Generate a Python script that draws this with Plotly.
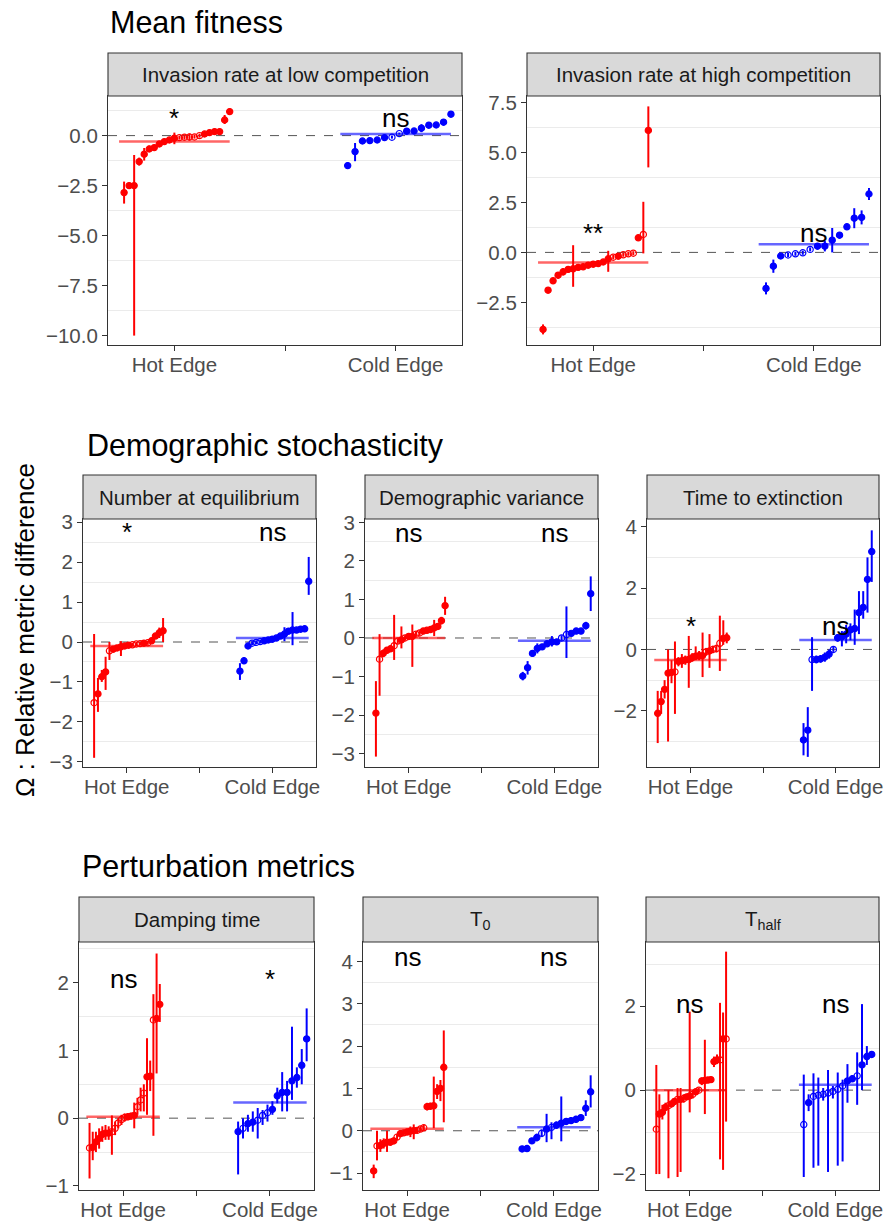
import plotly.graph_objects as go

W, H = 885, 1221
FONT = "Liberation Sans, Arial, Helvetica, sans-serif"
RED = "#FF0000"
BLUE = "#0000FF"

# ---------------- data ----------------
panel_titles = ["Invasion rate at low competition", "Invasion rate at high competition",
                "Number at equilibrium", "Demographic variance", "Time to extinction",
                "Damping time", "T<sub>0</sub>", "T<sub>half</sub>"]
section_titles = ["Mean fitness", "Demographic stochasticity", "Perturbation metrics"]
x_labels = ["Hot Edge", "Cold Edge"]
sig_hot = ["*", "**", "*", "ns", "*", "ns", "ns", "ns"]
sig_cold = ["ns", "ns", "ns", "ns", "ns", "*", "ns", "ns"]
sig_y = [0.9, 0.97, 2.76, 2.73, 0.76, 2.06, 4.11, 2.05]
mean_hot = [-0.3, -0.5, -0.1, 0.0, -0.34, 0.02, 0.05, 0.0]
mean_cold = [0.08, 0.41, 0.1, -0.07, 0.31, 0.23, 0.08, 0.13]

# Panel 1: invasion rate, low competition
p1_hot_val = [-2.85, -2.5, -2.5, -1.3, -0.93, -0.67, -0.6, -0.42, -0.3, -0.22, -0.13, -0.1, -0.08, -0.07, -0.07, 0.0, 0.08, 0.15, 0.2, 0.2, 0.78, 1.2]
p1_hot_lo = [-3.4, -2.65, -10.0, -1.5, -1.25, -0.8, -0.7, -0.5, -0.4, -0.3, -0.43, -0.2, -0.2, -0.25, -0.15, -0.1, 0.0, 0.05, 0.12, 0.12, 0.58, 1.05]
p1_hot_hi = [-2.3, -2.35, -0.97, -1.1, -0.62, -0.5, -0.5, -0.35, -0.2, -0.15, 0.15, 0.0, 0.05, 0.1, 0.05, 0.1, 0.15, 0.25, 0.28, 0.28, 1.03, 1.35]
p1_hot_open = [11, 12, 13, 14, 15]
p1_cold_val = [-1.5, -0.8, -0.27, -0.25, -0.22, -0.1, -0.08, 0.1, 0.22, 0.23, 0.37, 0.52, 0.53, 0.67, 1.07]
p1_cold_lo = [-1.65, -1.28, -0.35, -0.32, -0.3, -0.18, -0.15, 0.05, 0.15, 0.16, 0.17, 0.45, 0.46, 0.6, 0.95]
p1_cold_hi = [-1.35, -0.37, -0.2, -0.18, -0.15, -0.02, 0.0, 0.15, 0.29, 0.3, 0.57, 0.6, 0.6, 0.75, 1.2]
p1_cold_open = [6, 7]

# Panel 2: invasion rate, high competition
p2_hot_val = [-3.85, -1.89, -1.42, -1.14, -0.97, -0.85, -0.82, -0.75, -0.72, -0.64, -0.59, -0.56, -0.48, -0.32, -0.24, -0.19, -0.12, -0.07, -0.04, 0.73, 0.9, 6.1]
p2_hot_lo = [-4.1, -2.0, -1.55, -1.3, -1.15, -1.0, -1.72, -0.88, -0.8, -0.72, -0.67, -0.64, -0.56, -0.97, -0.35, -0.3, -0.22, -0.17, -0.14, 0.6, -0.05, 4.25]
p2_hot_hi = [-3.6, -1.78, -1.3, -0.98, -0.8, -0.7, 0.36, -0.62, -0.64, -0.56, -0.51, -0.48, -0.4, 0.08, -0.13, -0.08, -0.02, 0.03, 0.06, 0.86, 2.53, 7.3]
p2_hot_open = [14, 16, 17, 18, 20]
p2_cold_val = [-1.8, -0.69, -0.18, -0.13, -0.07, -0.02, 0.15, 0.31, 0.31, 0.61, 0.86, 1.28, 1.71, 1.75, 2.92]
p2_cold_lo = [-2.1, -1.02, -0.28, -0.23, -0.17, -0.12, 0.05, 0.2, 0.05, 0.0, 0.78, 1.18, 1.21, 1.4, 2.62]
p2_cold_hi = [-1.5, -0.36, -0.08, -0.03, 0.03, 0.08, 0.25, 0.42, 0.57, 1.22, 0.96, 1.38, 2.21, 2.1, 3.22]
p2_cold_open = [3, 4, 5, 6]

# Panel 3: number at equilibrium
p3_hot_val = [-1.52, -1.3, -0.87, -0.75, -0.22, -0.18, -0.15, -0.12, -0.1, -0.08, -0.07, -0.05, -0.04, -0.03, -0.02, 0.03, 0.15, 0.23, 0.28]
p3_hot_lo = [-2.9, -1.75, -1.0, -1.2, -0.45, -0.25, -0.22, -0.35, -0.15, -0.13, -0.12, -0.1, -0.09, -0.08, -0.07, -0.02, 0.08, 0.1, 0.0]
p3_hot_hi = [0.2, -0.9, -0.7, -0.37, 0.0, -0.11, -0.08, 0.02, -0.05, -0.03, -0.02, 0.0, 0.01, 0.02, 0.03, 0.08, 0.22, 0.36, 0.6]
p3_hot_open = [0, 4, 10, 11, 12, 14]
p3_cold_val = [-0.73, -0.47, -0.1, -0.03, -0.01, 0.01, 0.03, 0.05, 0.07, 0.1, 0.15, 0.2, 0.27, 0.3, 0.3, 0.32, 0.33, 1.52]
p3_cold_lo = [-0.95, -0.55, -0.16, -0.08, -0.06, -0.04, -0.02, 0.0, 0.02, 0.05, 0.1, 0.02, 0.2, -0.08, 0.25, 0.27, 0.28, 1.18]
p3_cold_hi = [-0.53, -0.39, -0.04, 0.02, 0.04, 0.06, 0.08, 0.1, 0.12, 0.15, 0.2, 0.37, 0.34, 0.75, 0.35, 0.37, 0.38, 2.13]
p3_cold_open = [3, 4, 5]

# Panel 4: demographic variance
p4_hot_val = [-1.95, -0.55, -0.4, -0.32, -0.28, -0.2, -0.08, -0.05, 0.0, 0.04, 0.04, 0.1, 0.13, 0.18, 0.2, 0.22, 0.26, 0.3, 0.45, 0.84]
p4_hot_lo = [-3.08, -1.5, -0.5, -0.4, -0.36, -0.57, -0.15, -0.27, -0.07, -0.03, -0.75, 0.03, 0.06, 0.11, 0.13, 0.15, 0.05, 0.23, 0.35, 0.6]
p4_hot_hi = [-1.12, 0.1, -0.3, -0.24, -0.2, 0.6, -0.01, 0.3, 0.07, 0.11, 0.35, 0.17, 0.2, 0.25, 0.27, 0.29, 0.47, 0.37, 0.55, 1.07]
p4_hot_open = [1, 5, 6, 8, 11, 12]
p4_cold_val = [-0.99, -0.77, -0.4, -0.27, -0.23, -0.15, -0.1, -0.1, 0.0, 0.09, 0.12, 0.18, 0.18, 0.32, 1.15]
p4_cold_lo = [-1.1, -0.95, -0.48, -0.4, -0.3, -0.22, -0.22, -0.17, -0.07, -0.52, 0.05, 0.11, 0.11, 0.22, 0.7]
p4_cold_hi = [-0.88, -0.6, -0.32, -0.14, -0.16, -0.08, 0.05, -0.03, 0.07, 0.82, 0.19, 0.25, 0.25, 0.42, 1.6]
p4_cold_open = [8, 9]

# Panel 5: time to extinction
p5_hot_val = [-2.08, -1.7, -1.3, -0.77, -0.75, -0.73, -0.39, -0.37, -0.34, -0.33, -0.27, -0.22, -0.2, -0.2, -0.08, -0.05, 0.0, 0.03, 0.2, 0.36, 0.38]
p5_hot_lo = [-3.05, -2.1, -1.6, -3.0, -1.1, -2.1, -0.55, -0.6, -0.5, -1.25, -0.4, -0.35, -0.35, -0.9, -0.2, -0.6, -0.12, -0.1, -0.7, 0.15, 0.2]
p5_hot_hi = [-1.35, -1.35, -1.0, 0.0, -0.35, 0.26, -0.25, -0.15, -0.2, 0.44, -0.12, 0.1, -0.05, 0.55, 0.05, 0.5, 0.12, 0.15, 1.1, 0.95, 0.55]
p5_hot_open = [5, 14, 16, 17, 18]
p5_cold_val = [-2.95, -2.63, -0.33, -0.33, -0.31, -0.25, -0.15, 0.0, 0.38, 0.41, 0.5, 0.64, 0.68, 1.2, 1.37, 2.28, 3.19]
p5_cold_lo = [-3.45, -3.5, -1.35, -0.45, -0.43, -0.4, -0.3, -0.08, 0.25, 0.1, 0.2, 0.3, 0.15, 0.5, 1.0, 1.2, 2.2]
p5_cold_hi = [-2.4, -1.88, 0.4, -0.2, -0.18, -0.1, 0.0, 0.08, 0.5, 0.6, 0.8, 0.85, 1.3, 1.9, 1.9, 3.0, 3.88]
p5_cold_open = [2, 7]

# Panel 6: damping time
p6_hot_val = [-0.44, -0.43, -0.35, -0.3, -0.24, -0.22, -0.22, -0.2, -0.15, -0.07, -0.02, 0.01, 0.02, 0.03, 0.04, 0.17, 0.27, 0.37, 0.61, 0.62, 1.45, 1.47, 1.68]
p6_hot_lo = [-0.89, -0.62, -0.5, -0.45, -0.35, -0.32, -0.32, -0.54, -0.25, -0.15, -0.1, -0.05, -0.03, -0.02, -0.15, 0.05, 0.1, 0.1, 0.05, 0.4, -0.26, 0.66, 1.42]
p6_hot_hi = [-0.07, -0.2, -0.2, -0.15, -0.12, -0.1, -0.12, 0.04, -0.05, 0.0, 0.05, 0.07, 0.07, 0.08, 0.23, 0.3, 0.45, 0.5, 1.18, 0.85, 1.83, 2.43, 1.98]
p6_hot_open = [0, 7, 8, 9, 10, 11, 13, 15, 16, 17, 20]
p6_cold_val = [-0.2, -0.15, -0.08, -0.06, -0.03, 0.04, 0.08, 0.13, 0.33, 0.38, 0.38, 0.55, 0.6, 0.78, 1.17]
p6_cold_lo = [-0.83, -0.3, -0.2, -0.2, -0.3, -0.1, -0.05, 0.05, 0.22, 0.1, 0.1, 0.27, 0.45, 0.5, 0.84]
p6_cold_hi = [-0.05, 0.0, 0.05, 0.1, 0.15, 0.12, 0.2, 0.25, 0.45, 0.68, 0.55, 1.35, 0.75, 1.02, 1.62]
p6_cold_open = [1, 4, 5, 6]

# Panel 7: T0
p7_hot_val = [-0.95, -0.36, -0.35, -0.3, -0.27, -0.27, -0.24, -0.15, -0.07, -0.05, -0.03, -0.01, 0.0, 0.01, 0.04, 0.07, 0.57, 0.58, 0.59, 0.93, 1.0, 1.5]
p7_hot_lo = [-1.12, -0.7, -0.5, -0.42, -0.5, -0.35, -0.32, -0.22, -0.14, -0.12, -0.1, -0.15, -0.2, -0.06, -0.02, 0.0, 0.48, 0.5, 0.06, 0.75, 0.7, 0.2]
p7_hot_hi = [-0.8, 0.0, -0.2, -0.18, 0.0, -0.19, -0.16, -0.08, 0.0, 0.02, 0.05, 0.1, 0.15, 0.08, 0.1, 0.14, 0.66, 0.66, 1.28, 1.1, 1.2, 2.37]
p7_hot_open = [1, 7, 9, 13, 14, 15]
p7_cold_val = [-0.43, -0.42, -0.24, -0.16, -0.06, 0.04, 0.08, 0.13, 0.18, 0.22, 0.24, 0.27, 0.31, 0.53, 0.92]
p7_cold_lo = [-0.48, -0.47, -0.3, -0.25, -0.15, -0.27, -0.2, 0.05, -0.25, 0.15, 0.17, 0.19, 0.24, 0.35, 0.55]
p7_cold_hi = [-0.38, -0.37, -0.18, -0.07, 0.03, 0.4, 0.2, 0.22, 0.81, 0.3, 0.32, 0.35, 0.38, 0.72, 1.31]
p7_cold_open = [4, 6]

# Panel 8: T_half
p8_hot_val = [-0.93, -0.57, -0.53, -0.41, -0.37, -0.33, -0.27, -0.22, -0.22, -0.2, -0.16, -0.14, -0.1, -0.04, 0.0, 0.22, 0.23, 0.24, 0.25, 0.68, 0.72, 0.72, 1.22, 1.22]
p8_hot_lo = [-2.0, -2.0, -0.7, -0.5, -2.1, -0.4, -0.35, -2.07, -1.95, -0.3, -0.22, -0.53, -0.2, -0.1, -0.05, 0.12, -0.57, 0.17, 0.18, 0.55, 0.62, -1.65, -1.9, -0.75]
p8_hot_hi = [0.6, -0.1, -0.35, -0.3, 0.0, -0.25, -0.2, 0.05, 0.05, -0.1, -0.1, 1.87, 0.0, 0.0, 0.05, 0.3, 1.2, 0.3, 0.32, 0.8, 0.85, 2.08, 1.85, 3.3]
p8_hot_open = [0, 4, 7, 9, 12, 14, 21, 23]
p8_cold_val = [-0.82, -0.3, -0.15, -0.12, -0.1, -0.07, -0.03, 0.02, 0.1, 0.22, 0.27, 0.34, 0.6, 0.8, 0.85]
p8_cold_lo = [-2.07, -0.5, -1.85, -1.8, -0.25, -1.95, -0.2, -1.8, -1.7, -0.3, 0.2, -0.35, 0.0, 0.6, 0.78]
p8_cold_hi = [0.37, -0.1, 0.4, 0.3, 0.05, 0.48, 0.1, 0.42, 0.25, 0.62, 0.35, 0.9, 2.05, 1.05, 0.92]
p8_cold_open = [0, 2, 3, 4, 5, 6, 7, 8, 11]

hot_data = [
    (p1_hot_val, p1_hot_lo, p1_hot_hi, p1_hot_open),
    (p2_hot_val, p2_hot_lo, p2_hot_hi, p2_hot_open),
    (p3_hot_val, p3_hot_lo, p3_hot_hi, p3_hot_open),
    (p4_hot_val, p4_hot_lo, p4_hot_hi, p4_hot_open),
    (p5_hot_val, p5_hot_lo, p5_hot_hi, p5_hot_open),
    (p6_hot_val, p6_hot_lo, p6_hot_hi, p6_hot_open),
    (p7_hot_val, p7_hot_lo, p7_hot_hi, p7_hot_open),
    (p8_hot_val, p8_hot_lo, p8_hot_hi, p8_hot_open),
]
cold_data = [
    (p1_cold_val, p1_cold_lo, p1_cold_hi, p1_cold_open),
    (p2_cold_val, p2_cold_lo, p2_cold_hi, p2_cold_open),
    (p3_cold_val, p3_cold_lo, p3_cold_hi, p3_cold_open),
    (p4_cold_val, p4_cold_lo, p4_cold_hi, p4_cold_open),
    (p5_cold_val, p5_cold_lo, p5_cold_hi, p5_cold_open),
    (p6_cold_val, p6_cold_lo, p6_cold_hi, p6_cold_open),
    (p7_cold_val, p7_cold_lo, p7_cold_hi, p7_cold_open),
    (p8_cold_val, p8_cold_lo, p8_cold_hi, p8_cold_open),
]

# ---------------- layout (pixels) ----------------
# (left, right, top, bottom, strip_top) of each panel's plotting area
boxes = [(108, 462, 96, 345, 53), (527, 880, 96, 345, 53),
         (83, 316, 519, 767, 475), (365, 598, 519, 767, 475), (647, 879, 519, 767, 475),
         (79, 314, 942, 1190, 897), (363, 598, 942, 1190, 897), (646, 879, 942, 1190, 897)]
y_ranges = [(-10.47, 1.98), (-4.63, 7.82), (-3.13, 3.08), (-3.35, 3.09), (-3.83, 4.25),
            (-1.06, 2.6), (-1.4, 4.46), (-2.38, 3.53)]
y_dticks = [2.5, 2.5, 1, 1, 2, 1, 1, 2]
y_formats = [".1f", ".1f", "", "", "", "", "", ""]
section_pos = [(108, 22), (85, 445), (80, 866)]


def px_x(p):
    return p / W


def px_y(p):
    return 1 - p / H


fig = go.Figure()
shapes = []
annotations = []
HOT_C, MID_C, COLD_C = 1, 2, 3
TICK_SIZE = 20.5

for k in range(8):
    ax = "" if k == 0 else str(k + 1)
    xref, yref = "x" + ax, "y" + ax
    l, r, t, b, st = boxes[k]
    # zero reference line (drawn as a trace so it sits under the points)
    fig.add_trace(go.Scatter(x=[0.4, 3.6], y=[0, 0], mode="lines", xaxis=xref, yaxis=yref,
                             line=dict(color="#555555", width=1, dash="dash"),
                             showlegend=False, hoverinfo="skip"))
    for (vals, lo, hi, opn), col, c in ((hot_data[k], RED, HOT_C), (cold_data[k], BLUE, COLD_C)):
        n = len(vals)
        xs = [c - 0.5 + (i + 1) / n for i in range(n)]
        sym = ["circle-open" if i in opn else "circle" for i in range(n)]
        fig.add_trace(go.Scatter(
            x=xs, y=vals, mode="markers", xaxis=xref, yaxis=yref,
            marker=dict(color=col, size=6.2, symbol=sym, line=dict(color=col, width=1.2)),
            error_y=dict(type="data", symmetric=False,
                         array=[h - v for h, v in zip(hi, vals)],
                         arrayminus=[v - q for v, q in zip(vals, lo)],
                         color=col, thickness=2, width=0),
            showlegend=False, hoverinfo="skip"))
    # mean lines
    fig.add_trace(go.Scatter(x=[HOT_C - 0.5, HOT_C + 0.5], y=[mean_hot[k]] * 2, mode="lines",
                             xaxis=xref, yaxis=yref, line=dict(color="rgba(255,0,0,0.6)", width=2.5),
                             showlegend=False, hoverinfo="skip"))
    fig.add_trace(go.Scatter(x=[COLD_C - 0.5, COLD_C + 0.5], y=[mean_cold[k]] * 2, mode="lines",
                             xaxis=xref, yaxis=yref, line=dict(color="rgba(0,0,255,0.6)", width=2.5),
                             showlegend=False, hoverinfo="skip"))
    # strip
    shapes.append(dict(type="rect", xref="paper", yref="paper", x0=px_x(l), x1=px_x(r),
                       y0=px_y(t), y1=px_y(st), fillcolor="#D9D9D9",
                       line=dict(color="#333333", width=1.1)))
    annotations.append(dict(text=panel_titles[k], xref="paper", yref="paper",
                            x=px_x((l + r) / 2), y=px_y((t + st) / 2), showarrow=False,
                            xanchor="center", yanchor="middle",
                            font=dict(family=FONT, size=TICK_SIZE, color="#1A1A1A")))
    # significance labels
    for txt, c in ((sig_hot[k], HOT_C), (sig_cold[k], COLD_C)):
        annotations.append(dict(text=txt, xref=xref, yref=yref, x=c, y=sig_y[k], showarrow=False,
                                xanchor="center", yanchor="middle",
                                font=dict(family=FONT, size=26, color="black")))
    dt = y_dticks[k]
    axis_common = dict(showline=True, mirror=True, linecolor="#333333", linewidth=1.1,
                       ticks="outside", ticklen=5, tickwidth=1.1, tickcolor="#333333",
                       tickfont=dict(family=FONT, size=TICK_SIZE, color="#4D4D4D"),
                       zeroline=False, automargin=False)
    fig.update_layout(**{
        "xaxis" + ax: dict(domain=[px_x(l), px_x(r)], anchor=yref, range=[0.4, 3.6],
                           tickmode="array", tickvals=[HOT_C, COLD_C], ticktext=x_labels,
                           ticklabelstandoff=-4,
                           minor=dict(tickmode="array", tickvals=[MID_C], ticks="outside",
                                      ticklen=5, tickwidth=1.1, tickcolor="#333333",
                                      showgrid=False),
                           showgrid=False, fixedrange=True, **axis_common),
        "yaxis" + ax: dict(domain=[px_y(b), px_y(t)], anchor=xref, range=list(y_ranges[k]),
                           tickmode="linear", tick0=0, dtick=dt, tickformat=y_formats[k],
                           showgrid=False,
                           minor=dict(tickmode="linear", tick0=dt / 2, dtick=dt, showgrid=True,
                                      gridcolor="#EBEBEB", gridwidth=1.2, ticks=""),
                           fixedrange=True, **axis_common),
    })

for txt, (sx, sy) in zip(section_titles, section_pos):
    annotations.append(dict(text=txt, xref="paper", yref="paper", x=px_x(sx), y=px_y(sy),
                            showarrow=False, xanchor="left", yanchor="middle",
                            font=dict(family=FONT, size=30.5, color="black")))

annotations.append(dict(text="Ω : Relative metric difference", xref="paper", yref="paper",
                        x=px_x(25), y=px_y(630), showarrow=False, textangle=-90,
                        xanchor="center", yanchor="middle",
                        font=dict(family=FONT, size=26, color="black")))

fig.update_layout(width=W, height=H, margin=dict(l=0, r=0, t=0, b=0, autoexpand=False),
                  autosize=False,
                  paper_bgcolor="white", plot_bgcolor="white", showlegend=False,
                  shapes=shapes, annotations=annotations)

fig.write_html("out.html", config={"responsive": False, "displayModeBar": False},
               post_script="document.body.style.margin='0px';"
                           "document.body.style.padding='0px';"
                           "document.body.style.overflow='hidden';")
